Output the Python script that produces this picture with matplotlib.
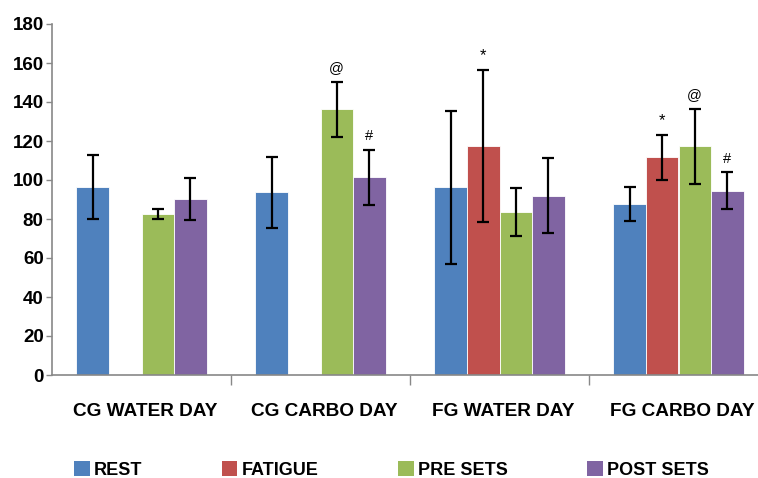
import numpy as np
import matplotlib
matplotlib.use("Agg")
from matplotlib import pyplot as plt
from matplotlib.patches import Patch

# groups on the x axis
groups = ["CG WATER DAY", "CG CARBO DAY", "FG WATER DAY", "FG CARBO DAY"]
series = ["REST", "FATIGUE", "PRE SETS", "POST SETS"]
colors = ["#4F81BD", "#C0504D", "#9BBB59", "#8064A2"]

# means (fatigue not measured on the CG days)
rest = [96.3, 93.7, 96.3, 87.7]
fatigue = [np.nan, np.nan, 117.4, 111.6]
pre_sets = [82.5, 136.2, 83.6, 117.4]
post_sets = [90.3, 101.3, 92.0, 94.5]

# standard deviations
rest_err = [16.5, 18.3, 39.2, 8.5]
fatigue_err = [np.nan, np.nan, 39.0, 11.5]
pre_err = [2.6, 14.1, 12.3, 19.2]
post_err = [10.6, 14.0, 19.1, 9.4]

# significance marks: (group, series, symbol)
marks = [(1, 2, "@"), (1, 3, "#"), (2, 1, "*"), (3, 1, "*"), (3, 2, "@"), (3, 3, "#")]

values = [rest, fatigue, pre_sets, post_sets]
errors = [rest_err, fatigue_err, pre_err, post_err]

fig = plt.figure(figsize=(7.58, 4.78), dpi=100)
ax = fig.add_axes([52 / 758, 103 / 478, 716 / 758, 351 / 478])

x = np.arange(len(groups))
w = 0.182
offsets = [-1.5 * w, -0.5 * w, 0.5 * w, 1.5 * w]

for i in range(4):
    ax.bar(x + offsets[i], values[i], w, color=colors[i], edgecolor="white",
           linewidth=0.6, zorder=2)
    ax.errorbar(x + offsets[i], values[i], yerr=errors[i], fmt="none",
                ecolor="black", elinewidth=1.6, capsize=4.5, capthick=1.6, zorder=3)

for g, s, sym in marks:
    top = values[s][g] + errors[s][g]
    size = 12 if sym == "*" else 10.5
    ax.text(x[g] + offsets[s], top + 3.5, sym, ha="center", va="bottom",
            fontsize=size, family="Liberation Sans")

ax.set_xlim(-0.5, 3.5)
ax.set_ylim(0, 180)
ax.set_yticks(range(0, 181, 20))
ax.set_yticklabels([str(v) for v in range(0, 181, 20)], fontsize=13.5,
                   fontweight="bold", family="Liberation Sans")

# group separators as ticks, labels as text below
ax.set_xticks([0.5, 1.5, 2.5])
ax.set_xticklabels([])
ax.tick_params(axis="x", length=7, color="#888888", width=1)
ax.tick_params(axis="y", length=4, color="#888888", width=1, pad=2)
for g in range(len(groups)):
    ax.text(x[g] + 0.02, -0.105, groups[g], transform=ax.get_xaxis_transform(),
            ha="center", va="center", fontsize=13.7, fontweight="bold",
            family="Liberation Sans")

for side in ["top", "right"]:
    ax.spines[side].set_visible(False)
ax.spines["left"].set_color("#888888")
ax.spines["bottom"].set_color("#888888")
ax.spines["left"].set_linewidth(1.2)
ax.spines["bottom"].set_linewidth(1.2)

handles = [Patch(facecolor=c, edgecolor="none") for c in colors]
leg = fig.legend(handles, series, loc="center left", bbox_to_anchor=(58 / 758, 1 - 470 / 478),
                 ncol=4, frameon=False, handlelength=0.85, handleheight=0.85,
                 handletextpad=0.25, columnspacing=4.4,
                 prop={"family": "Liberation Sans", "weight": "bold", "size": 13})

fig.savefig("out.png", dpi=100)
